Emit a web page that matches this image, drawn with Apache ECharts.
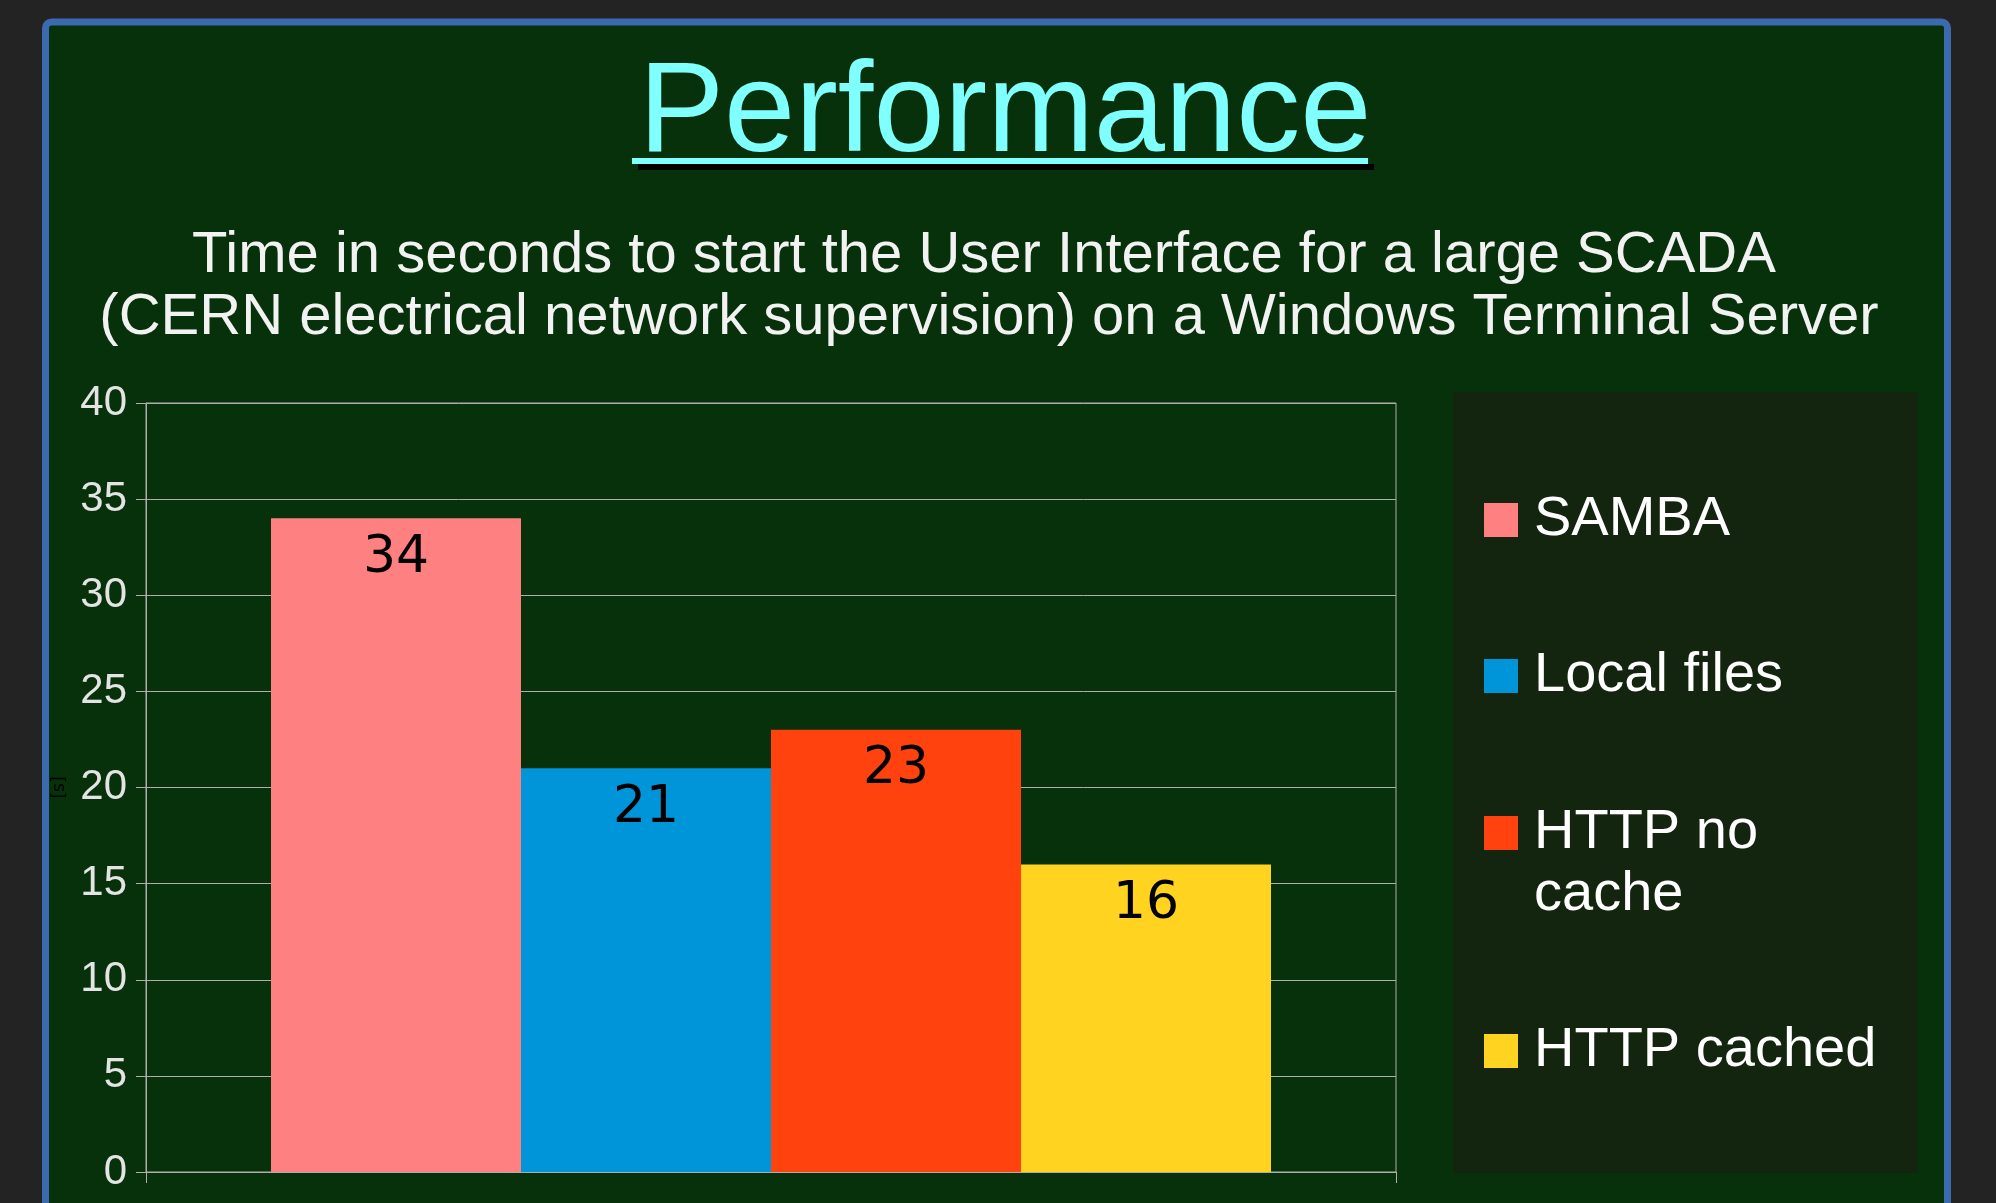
<!DOCTYPE html>
<html>
<head>
<meta charset="utf-8">
<script src="https://cdn.jsdelivr.net/npm/echarts@6/dist/echarts.min.js"></script>
<style>
html,body{margin:0;padding:0;background:#232323;}
#chart{width:1996px;height:1203px;}
</style>
</head>
<body>
<div id="chart"></div>
<script>
// ---- data ----
var titleText = 'Performance';
var subtitleLines = [
  'Time in seconds to start the User Interface for a large SCADA',
  '(CERN electrical network supervision) on a Windows Terminal Server'
];
var categories = [''];
var seriesNames = ['SAMBA', 'Local files', 'HTTP no cache', 'HTTP cached'];
var seriesValues = [[34], [21], [23], [16]];
var seriesColors = ['#ff8080', '#0094d9', '#ff420e', '#ffd320'];
var legendLabels = ['SAMBA', 'Local files', '\nHTTP no\ncache', 'HTTP cached'];
var yTicks = { min: 0, max: 40, interval: 5 };
var yAxisName = '[s]';

// ---- chart ----
var chart = echarts.init(document.getElementById('chart'), null, { renderer: 'canvas' });
var FONT = 'Liberation Sans';
var gridColor = '#aeaeae';

var legendTops = [489, 645, 740, 1020];
var legends = seriesNames.map(function (name, i) {
  return {
    show: true,
    orient: 'vertical',
    left: 1484,
    top: legendTops[i],
    padding: 0,
    itemWidth: 34,
    itemHeight: 34,
    icon: 'rect',
    selectedMode: false,
    data: [{ name: name }],
    formatter: function () { return legendLabels[i]; },
    textStyle: {
      color: '#ffffff',
      fontFamily: FONT,
      fontSize: 56,
      lineHeight: 62,
      padding: [0, 0, 0, 11],
      textShadowColor: '#000000',
      textShadowOffsetX: 3,
      textShadowOffsetY: 3,
      textShadowBlur: 0
    }
  };
});

var series = seriesNames.map(function (name, i) {
  return {
    name: name,
    type: 'bar',
    data: seriesValues[i],
    barGap: '0%',
    barCategoryGap: '20%',
    itemStyle: { color: seriesColors[i] },
    label: {
      show: true,
      position: 'insideTop',
      distance: 14,
      color: '#000000',
      fontFamily: 'DejaVu Sans',
      fontSize: 52
    }
  };
});

var option = {
  backgroundColor: '#232323',
  animation: false,
  title: [
    {
      text: titleText,
      left: 1000,
      top: 47,
      textAlign: 'center',
      padding: 5,
      textStyle: {
        color: '#80ffff',
        fontFamily: FONT,
        fontWeight: 'normal',
        fontSize: 128,
        lineHeight: 128,
        textShadowColor: '#000000',
        textShadowOffsetX: 6,
        textShadowOffsetY: 6,
        textShadowBlur: 0
      }
    },
    {
      text: subtitleLines[0],
      left: 979,
      top: 219,
      textAlign: 'center',
      padding: 5,
      textStyle: {
        color: '#f2f2f2',
        fontFamily: FONT,
        fontWeight: 'normal',
        fontSize: 58,
        lineHeight: 63
      }
    },
    {
      text: subtitleLines[1],
      left: 984,
      top: 281,
      textAlign: 'center',
      padding: 5,
      textStyle: {
        color: '#f2f2f2',
        fontFamily: FONT,
        fontWeight: 'normal',
        fontSize: 58,
        lineHeight: 63
      }
    }
  ],
  graphic: [
    {
      type: 'rect', z: -100, silent: true,
      shape: { x: 45.5, y: 22, width: 1902, height: 1300, r: 6 },
      style: { fill: '#07310a', stroke: '#3b6bae', lineWidth: 7 }
    },
    {
      type: 'rect', z: -90, silent: true,
      shape: { x: 1453, y: 392, width: 465, height: 781 },
      style: { fill: '#13240f' }
    },
    {
      type: 'rect', z: 5, silent: true,
      shape: { x: 638, y: 164, width: 736, height: 6 },
      style: { fill: '#000000' }
    },
    {
      type: 'rect', z: 6, silent: true,
      shape: { x: 632, y: 158, width: 736, height: 6 },
      style: { fill: '#80ffff' }
    }
  ],
  legend: legends,
  grid: {
    left: 146,
    top: 403,
    width: 1250,
    height: 769,
    show: true,
    backgroundColor: 'transparent',
    borderColor: gridColor,
    borderWidth: 1
  },
  xAxis: {
    type: 'category',
    data: categories,
    axisLine: { show: true, lineStyle: { color: gridColor, width: 1 } },
    axisTick: { show: true, length: 11, lineStyle: { color: gridColor } },
    axisLabel: { show: false },
    splitLine: { show: false }
  },
  yAxis: {
    type: 'value',
    min: yTicks.min,
    max: yTicks.max,
    interval: yTicks.interval,
    name: yAxisName,
    nameLocation: 'middle',
    nameRotate: 90,
    nameGap: 78,
    nameTextStyle: { color: '#000000', fontFamily: 'DejaVu Sans', fontSize: 17 },
    axisLine: { show: true, lineStyle: { color: gridColor, width: 1 } },
    axisTick: { show: true, length: 10, lineStyle: { color: gridColor } },
    axisLabel: {
      color: '#e4e4e4',
      fontFamily: FONT,
      fontSize: 42,
      margin: 19,
      padding: [6, 0, 0, 0]
    },
    splitLine: { show: true, lineStyle: { color: gridColor, width: 1 } }
  },
  series: series
};
chart.setOption(option);
</script>
</body>
</html>
